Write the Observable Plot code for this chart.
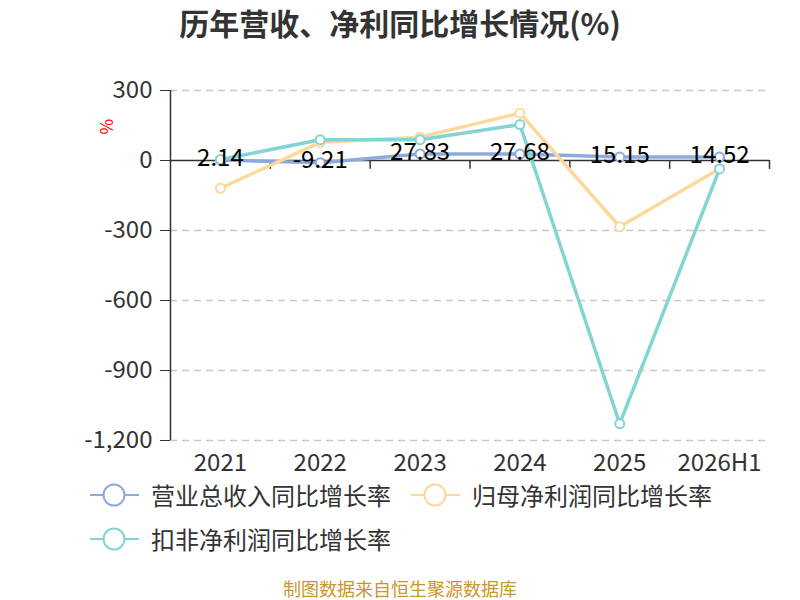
<!DOCTYPE html>
<html><head><meta charset="utf-8">
<script src="https://cdn.jsdelivr.net/npm/d3@7"></script>
<script src="https://cdn.jsdelivr.net/npm/@observablehq/plot@0.6"></script>
<style>
body{margin:0;width:800px;height:600px;position:relative;background:#fff;font-family:"Noto Sans CJK SC","Noto Sans",sans-serif;overflow:hidden}
#title{height:46px;line-height:44px;text-align:center;font-size:30px;font-weight:bold;color:#333}
#chart{height:440px}
.leg{position:absolute;display:flex;align-items:center;font-size:24px;line-height:1;color:#333;white-space:nowrap;transform:translateY(-50%)}
.leg svg{margin-right:12px;display:block}
#caption{position:absolute;top:579px;left:0;width:800px;text-align:center;font-size:18px;line-height:1.1;color:#c9962b}
</style></head><body>
<div id="title">历年营收、净利同比增长情况(%)</div>
<div id="chart"></div>
<div id="legend"></div>
<div id="caption">制图数据来自恒生聚源数据库</div>
<script>
const years = ["2021", "2022", "2023", "2024", "2025", "2026H1"];
const revenueGrowth = [2.14, -9.21, 27.83, 27.68, 15.15, 14.52];
const parentProfitGrowth = [-119, 78, 100, 203, -284, -35];
const deductedProfitGrowth = [4, 89, 89, 154, -1128, -36];
const seriesNames = ["营业总收入同比增长率", "归母净利润同比增长率", "扣非净利润同比增长率"];
const seriesColors = ["#8eaadc", "#fdd89b", "#82d4d5"];
const yTicks = [-1200, -900, -600, -300, 0, 300];

const seriesValues = [revenueGrowth, parentProfitGrowth, deductedProfitGrowth];
const series = seriesValues.map((vals, s) =>
  vals.map((v, i) => ({x: i + 0.5, year: years[i], value: v, series: seriesNames[s]})));

const marks = [
  Plot.gridY(yTicks.filter(d => d !== 0), {stroke: "#c8c8c8", strokeOpacity: 1, strokeDasharray: "7,5", strokeWidth: 1.5}),
  Plot.ruleX([0], {stroke: "#333", strokeWidth: 1.5}),
  Plot.ruleY([0], {stroke: "#333", strokeWidth: 1.5}),
  Plot.ruleX(d3.range(1, years.length + 1), {y1: 0, y2: -38, stroke: "#333", strokeWidth: 1.5}),
  Plot.axisY(yTicks, {tickSize: 10, tickPadding: 8, tickFormat: d => d.toLocaleString("en-US"), fontSize: 24, label: null}),
  Plot.axisX(years.map((d, i) => i + 0.5), {tickSize: 0, tickPadding: 13, tickFormat: d => years[Math.round(d - 0.5)], fontSize: 24, label: null}),
  Plot.text(["%"], {frameAnchor: "top-left", dx: -70, dy: 44, rotate: -90, fill: "red", fontSize: 17})
];
series.forEach((rows, s) => {
  marks.push(Plot.line(rows, {x: "x", y: "value", stroke: seriesColors[s], strokeWidth: 3.5}));
  marks.push(Plot.dot(rows, {x: "x", y: "value", r: 4.5, fill: "white", stroke: seriesColors[s], strokeWidth: 2}));
});
marks.push(Plot.text(series[0], {x: "x", y: "value", text: d => String(d.value), fontSize: 24, fill: "black", dy: -2}));

const chart = Plot.plot({
  width: 800,
  height: 440,
  marginTop: 44,
  marginBottom: 46,
  marginLeft: 170,
  marginRight: 31,
  x: {type: "linear", domain: [0, years.length], axis: null},
  y: {domain: [-1200, 300], axis: null},
  style: {fontSize: "24px", fontFamily: "'Noto Sans CJK SC','Noto Sans',sans-serif", color: "#333", background: "white", overflow: "visible"},
  marks
});
document.getElementById("chart").appendChild(chart);

const legendPos = [[90, 495], [411, 495], [90, 539]];
const legend = document.getElementById("legend");
seriesNames.forEach((name, s) => {
  const div = document.createElement("div");
  div.className = "leg";
  div.style.left = legendPos[s][0] + "px";
  div.style.top = legendPos[s][1] + "px";
  div.innerHTML = `<svg width="49" height="24"><line x1="0" x2="49" y1="12" y2="12" stroke="${seriesColors[s]}" stroke-width="2"/><circle cx="24" cy="12" r="10.5" fill="white" stroke="${seriesColors[s]}" stroke-width="2"/></svg><span>${name}</span>`;
  legend.appendChild(div);
});
</script>
</body></html>
